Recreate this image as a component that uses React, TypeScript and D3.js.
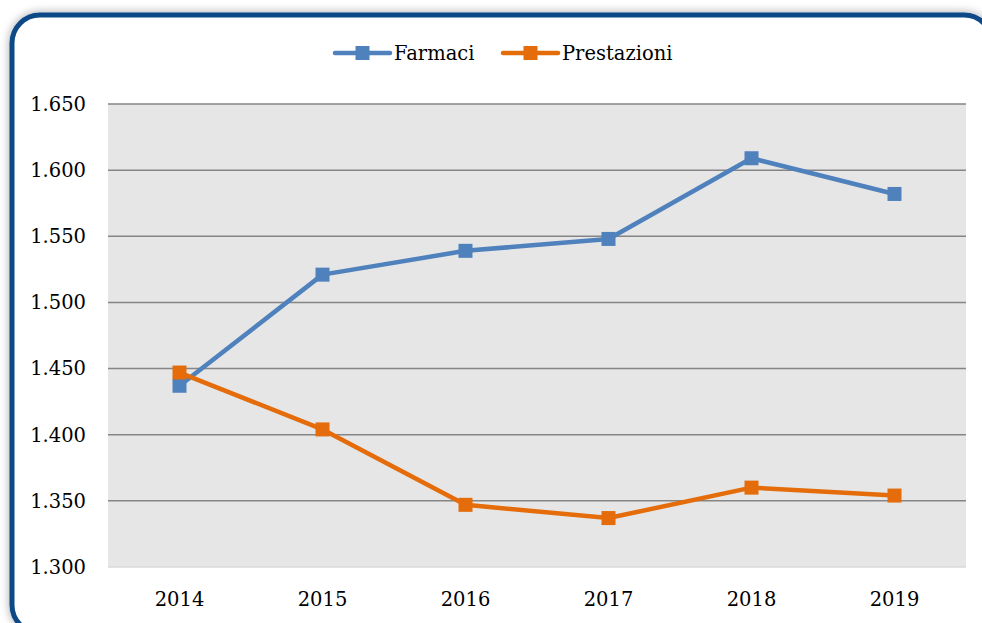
import React from 'react';
import * as d3 from 'd3';

const years = ['2014', '2015', '2016', '2017', '2018', '2019'];
const farmaci = [1437, 1521, 1539, 1548, 1609, 1582];
const prestazioni = [1447, 1404, 1347, 1337, 1360, 1354];
const yTicks = [1300, 1350, 1400, 1450, 1500, 1550, 1600, 1650];

const W = 982;
const H = 623;
const margin = { top: 104, right: 16, bottom: 56, left: 108 };
const font = '"DejaVu Serif", serif';

const series = [
  { name: 'Farmaci', values: farmaci, color: '#4f81bd' },
  { name: 'Prestazioni', values: prestazioni, color: '#e46c0a' },
];

const fmt = (v: number) => d3.format(',.3f')(v / 1000).replace(',', '');

export default function App() {
  const x = d3.scaleBand().domain(years).range([margin.left, W - margin.right]);
  const y = d3.scaleLinear().domain([1300, 1650]).range([H - margin.bottom, margin.top]);
  const cx = (d: string) => (x(d) as number) + x.bandwidth() / 2;

  const line = d3
    .line<number>()
    .x((_, i) => cx(years[i]))
    .y((v) => y(v));

  const legendX = [335, 503];

  return (
    <div style={{ position: 'fixed', left: 0, top: 0 }}>
      <svg width={W} height={H} style={{ display: 'block' }}>
        <defs>
          <filter id="glow" x="-5%" y="-5%" width="110%" height="110%">
            <feGaussianBlur in="SourceAlpha" stdDeviation="5" result="b" />
            <feFlood floodColor="#000" floodOpacity="0.35" />
            <feComposite in2="b" operator="in" result="s" />
            <feMerge>
              <feMergeNode in="s" />
              <feMergeNode in="SourceGraphic" />
            </feMerge>
          </filter>
        </defs>
        <rect x={0} y={0} width={W} height={H} fill="#fff" />
        <rect
          x={12}
          y={15}
          width={980}
          height={618}
          rx={28}
          fill="#fff"
          stroke="#0b4a86"
          strokeWidth={5}
          filter="url(#glow)"
        />

        <rect
          x={margin.left}
          y={margin.top}
          width={W - margin.left - margin.right}
          height={H - margin.top - margin.bottom}
          fill="#e6e6e6"
        />

        {yTicks.map((t) => (
          <g key={t}>
            {t > 1300 && (
              <line
                x1={margin.left}
                x2={W - margin.right}
                y1={y(t)}
                y2={y(t)}
                stroke="#858585"
                strokeWidth={1.5}
              />
            )}
            <text
              x={margin.left - 22}
              y={y(t)}
              dy="0.35em"
              textAnchor="end"
              fontFamily={font}
              fontSize={19.5}
              fill="#000"
            >
              {fmt(t)}
            </text>
          </g>
        ))}
        <line
          x1={margin.left}
          x2={W - margin.right}
          y1={y(1300)}
          y2={y(1300)}
          stroke="#d9d9d9"
          strokeWidth={1.5}
        />

        {years.map((yr) => (
          <text
            key={yr}
            x={cx(yr)}
            y={606}
            textAnchor="middle"
            fontFamily={font}
            fontSize={19.5}
            fill="#000"
          >
            {yr}
          </text>
        ))}

        {series.map((s) => (
          <g key={s.name}>
            <path
              d={line(s.values) as string}
              fill="none"
              stroke={s.color}
              strokeWidth={4.5}
              strokeLinejoin="round"
              strokeLinecap="round"
            />
            {s.values.map((v, i) => (
              <rect
                key={i}
                x={cx(years[i]) - 7}
                y={y(v) - 7}
                width={14}
                height={14}
                fill={s.color}
              />
            ))}
          </g>
        ))}

        {series.map((s, i) => (
          <g key={s.name} transform={`translate(${legendX[i]}, 53)`}>
            <line x1={0} x2={55} y1={0} y2={0} stroke={s.color} strokeWidth={4.5} strokeLinecap="round" />
            <rect x={20.5} y={-7} width={14} height={14} fill={s.color} />
            <text x={59} y={0} dy="0.35em" fontFamily={font} fontSize={19.5} fill="#000">
              {s.name}
            </text>
          </g>
        ))}
      </svg>
    </div>
  );
}
